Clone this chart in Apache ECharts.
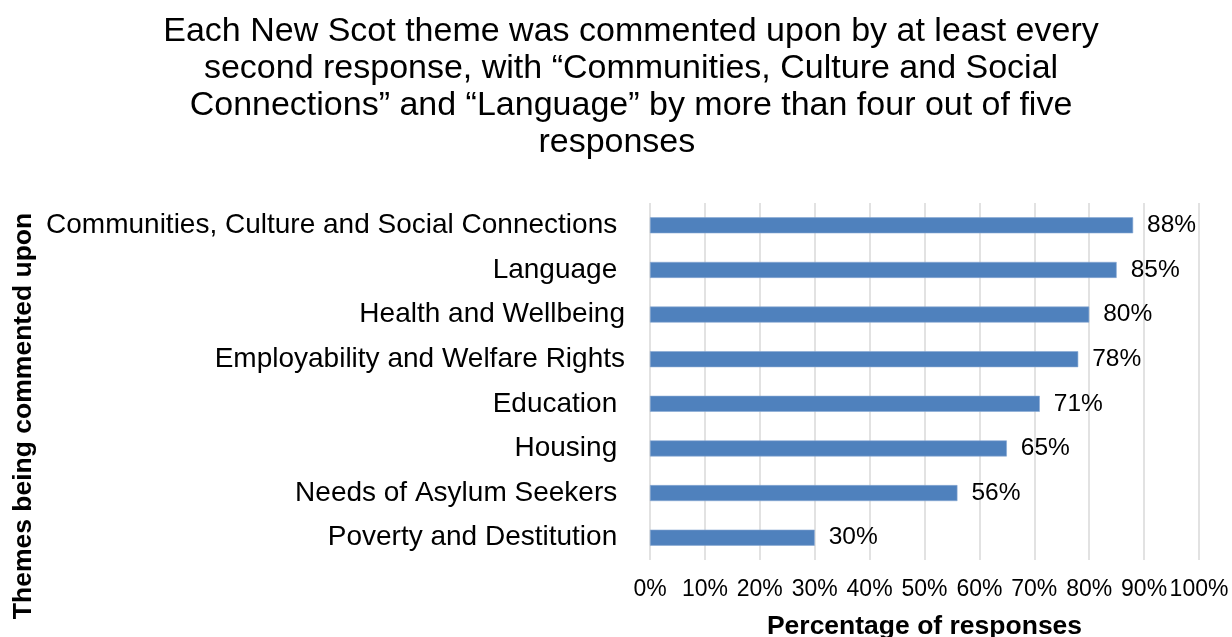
<!DOCTYPE html>
<html>
<head>
<meta charset="utf-8">
<script src="https://cdn.jsdelivr.net/npm/echarts@6/dist/echarts.min.js"></script>
<style>
  html, body { margin: 0; padding: 0; background: #ffffff; }
  #chart { width: 1232px; height: 637px; }
</style>
</head>
<body>
<div id="chart"></div>
<script>
// Themes, listed bottom-to-top as the category axis draws them
const themes = [
  'Poverty and Destitution ',
  'Needs of Asylum Seekers ',
  'Housing ',
  'Education ',
  'Employability and Welfare Rights',
  'Health and Wellbeing',
  'Language ',
  'Communities, Culture and Social Connections '
];
// Share of responses commenting on each theme (%)
const shares = [30, 56, 65, 71, 78, 80, 85, 88];
// Value-axis ticks (%)
const tickValues = [0, 10, 20, 30, 40, 50, 60, 70, 80, 90, 100];

const titleText = 'Each New Scot theme was commented upon by at least every\nsecond response, with \u201cCommunities, Culture and Social\nConnections\u201d and \u201cLanguage\u201d by more than four out of five\nresponses   ';

const FONT = '"Liberation Sans", Arial, sans-serif';

const chart = echarts.init(document.getElementById('chart'), null, { renderer: 'canvas' });
chart.setOption({
  animation: false,
  backgroundColor: '#ffffff',
  textStyle: { fontFamily: FONT, color: '#000000' },
  title: {
    text: titleText,
    left: 631,
    top: 13,
    textAlign: 'center',
    padding: 0,
    textStyle: { fontFamily: FONT, fontSize: 34, fontWeight: 'normal', color: '#000000', lineHeight: 37 }
  },
  grid: {
    left: 650, right: 33, top: 203, bottom: 77,
    containLabel: false,
    outerBoundsMode: 'none'
  },
  xAxis: {
    type: 'value',
    min: tickValues[0],
    max: tickValues[tickValues.length - 1],
    interval: tickValues[1] - tickValues[0],
    name: 'Percentage of responses',
    nameLocation: 'middle',
    nameGap: 53,
    nameTextStyle: { fontFamily: FONT, fontSize: 26.5, fontWeight: 'bold', color: '#000000' },
    axisLine: { show: false },
    axisTick: { show: false },
    axisLabel: { fontFamily: FONT, fontSize: 23, color: '#000000', margin: 18, formatter: v => v + '%' },
    splitLine: { show: true, lineStyle: { color: '#d9d9d9', width: 1.5 } }
  },
  yAxis: {
    type: 'category',
    data: themes,
    axisLine: { show: false },
    axisTick: { show: false },
    axisLabel: { fontFamily: FONT, fontSize: 28, color: '#000000', margin: 25, padding: [4, 0, 0, 0] },
    splitLine: { show: false }
  },
  series: [{
    type: 'bar',
    data: shares,
    barWidth: 16,
    itemStyle: { color: '#4f81bd', borderColor: '#86a8d4', borderWidth: 0.6 },
    label: {
      show: true,
      position: 'right',
      distance: 14,
      padding: [5, 0, 0, 0],
      fontFamily: FONT,
      fontSize: 24.5,
      color: '#000000',
      formatter: p => p.value + '%'
    }
  }],
  graphic: [{
    type: 'text',
    x: 24,
    y: 416,
    rotation: Math.PI / 2,
    style: {
      text: 'Themes being commented upon',
      fontFamily: FONT,
      fontSize: 26.5,
      fontWeight: 'bold',
      fill: '#000000',
      align: 'center',
      verticalAlign: 'middle'
    }
  }]
});
</script>
</body>
</html>
